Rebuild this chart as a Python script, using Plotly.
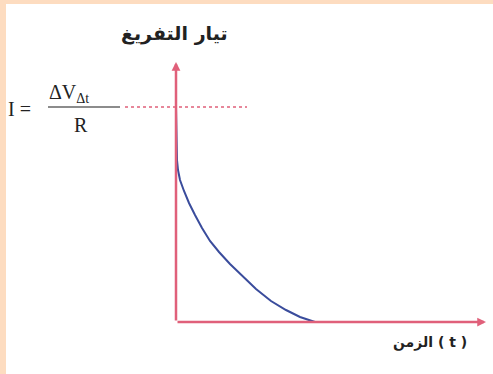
import plotly.graph_objects as go

# discharge current curve (arbitrary units)
t_vals = [0, 0.1, 0.2, 0.4, 0.8, 1.3, 1.9, 2.6, 3.4, 4.3, 5.4, 6.6, 8.0, 9.5, 11.0, 12.4, 13.9]
i_vals = [21.5, 16.2, 15.2, 14.2, 13.1, 11.9, 10.7, 9.4, 8.1, 7.0, 5.8, 4.6, 3.3, 2.1, 1.2, 0.5, 0]

i_max = 21.5          # I = dV/R level
dash_span = [-5.1, 7.1]
bar_span = [-12.8, -5.6]
t_axis_end = 31
i_axis_end = 26

y_label = "تيار التفريغ"
x_label = "الزمن ( t )"

red = "#e0607a"
blue = "#3a4c9c"
peach = "#fddcc0"
serif = "Liberation Serif, Times New Roman, serif"
arabic = "DejaVu Sans, Noto Sans, sans-serif"

fig = go.Figure()

# dotted reference level
fig.add_trace(go.Scatter(x=dash_span, y=[i_max, i_max], mode="lines",
                         line=dict(color=red, width=1.5, dash="dot"),
                         hoverinfo="skip"))
# fraction bar
fig.add_trace(go.Scatter(x=bar_span, y=[i_max, i_max], mode="lines",
                         line=dict(color="#666666", width=1.5),
                         hoverinfo="skip"))
# discharge curve
fig.add_trace(go.Scatter(x=t_vals, y=i_vals, mode="lines",
                         line=dict(color=blue, width=2),
                         hoverinfo="skip"))

# axes with arrows
fig.add_annotation(x=0, y=i_axis_end, ax=0, ay=0, xref="x", yref="y",
                   axref="x", ayref="y", text="", showarrow=True,
                   arrowhead=2, arrowsize=0.7, arrowwidth=2.5, arrowcolor=red)
fig.add_annotation(x=t_axis_end, y=0, ax=0, ay=0, xref="x", yref="y",
                   axref="x", ayref="y", text="", showarrow=True,
                   arrowhead=2, arrowsize=0.7, arrowwidth=2.5, arrowcolor=red)

# labels
fig.add_annotation(x=-0.2, y=28.9, text="<b>" + y_label + "</b>", showarrow=False,
                   font=dict(family=arabic, size=19, color="#222222"))
fig.add_annotation(x=25.4, y=-2.0, text="<b>" + x_label + "</b>", showarrow=False,
                   font=dict(family=arabic, size=14, color="#222222"))

# formula I = dV/R
fig.add_annotation(x=-15.7, y=21.3, text="I =", showarrow=False,
                   font=dict(family=serif, size=20, color="#222222"))
fig.add_annotation(x=-12.9, y=22.9, text="ΔV<sub>Δt</sub>", showarrow=False,
                   xanchor="left", font=dict(family=serif, size=20, color="#222222"))
fig.add_annotation(x=-9.5, y=19.7, text="R", showarrow=False,
                   font=dict(family=serif, size=20, color="#222222"))

fig.update_xaxes(range=[-17, 31.7], visible=False, fixedrange=True)
fig.update_yaxes(range=[-5.2, 31.8], visible=False, fixedrange=True)
fig.update_layout(
    width=493, height=374,
    margin=dict(l=6, r=0, t=4, b=0),
    paper_bgcolor=peach,
    plot_bgcolor="white",
    showlegend=False,
)

fig.write_html("out.html", config={"displayModeBar": False},
               post_script="document.body.style.margin='0';")
